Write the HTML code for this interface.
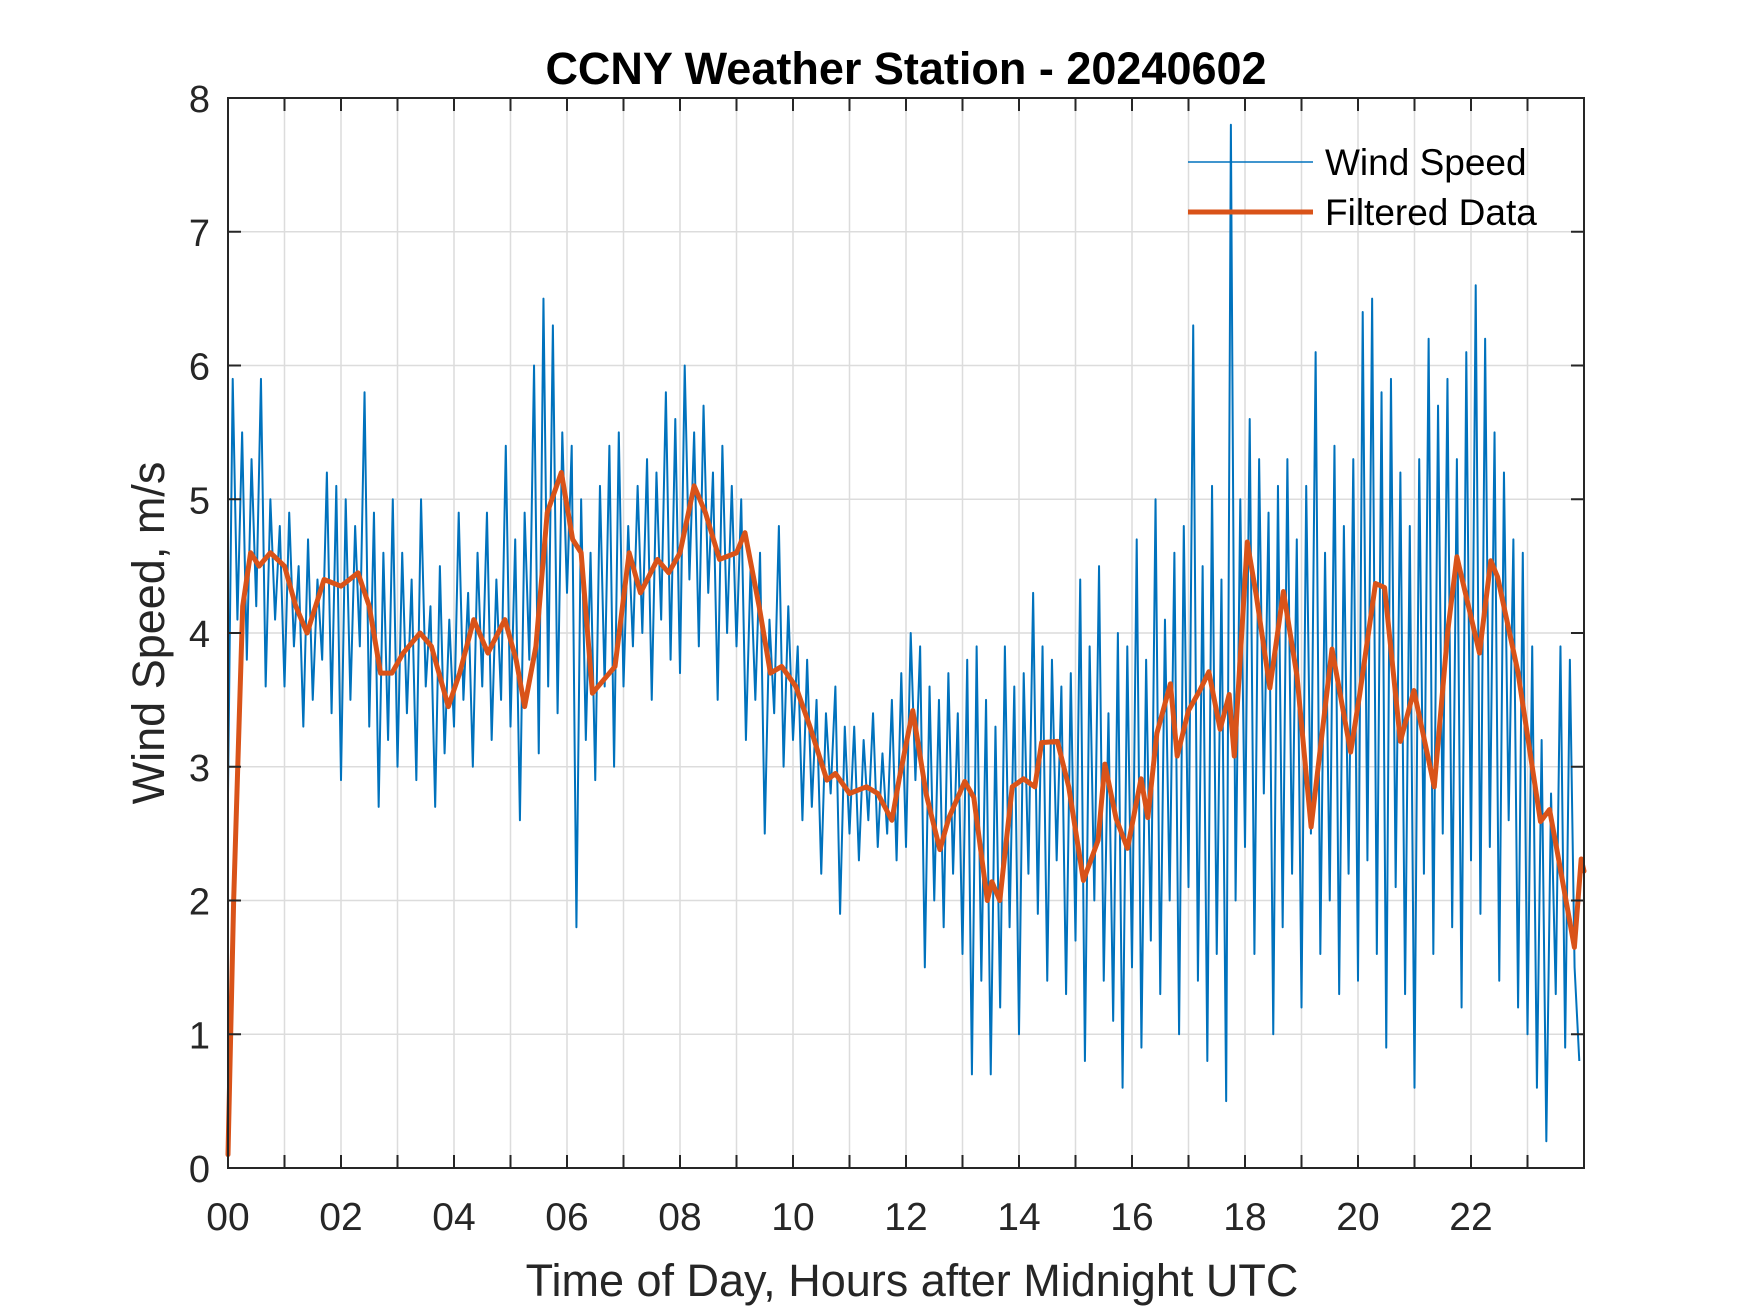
<!DOCTYPE html>
<html><head><meta charset="utf-8"><style>
html,body{margin:0;padding:0;background:#fff;}
svg{display:block;font-family:"Liberation Sans",Arial,sans-serif;}
</style></head><body>
<svg id="chart" width="1750" height="1313" viewBox="0 0 1750 1313" xmlns="http://www.w3.org/2000/svg">
<rect width="1750" height="1313" fill="#fff"/>
<g id="grid"></g>
<g id="series"></g>
<g id="axes"></g>
<text x="906" y="84" text-anchor="middle" font-size="45" font-weight="bold" fill="#000">CCNY Weather Station - 20240602</text>
<text x="912" y="1296" text-anchor="middle" font-size="45" fill="#262626">Time of Day, Hours after Midnight UTC</text>
<text transform="translate(164,633) rotate(-90)" text-anchor="middle" font-size="45" fill="#262626">Wind Speed, m/s</text>
<g>
<line x1="1188" y1="162" x2="1313" y2="162" stroke="#0072BD" stroke-width="1.5"/>
<text x="1325" y="175" font-size="37" fill="#000">Wind Speed</text>
<line x1="1188" y1="212" x2="1313" y2="212" stroke="#D95319" stroke-width="5"/>
<text x="1325" y="225" font-size="37" fill="#000">Filtered Data</text>
</g>
</svg>
<script>
const windSpeed = [
2.8,5.9,4.1,5.5,3.8,5.3,4.2,5.9,3.6,5.0,4.1,4.8,
3.6,4.9,3.9,4.5,3.3,4.7,3.5,4.4,3.8,5.2,3.4,5.1,
2.9,5.0,3.5,4.8,3.9,5.8,3.3,4.9,2.7,4.6,3.2,5.0,
3.0,4.6,3.4,4.4,2.9,5.0,3.6,4.2,2.7,4.5,3.1,4.1,
3.3,4.9,3.5,4.3,3.0,4.6,3.6,4.9,3.2,4.4,3.5,5.4,
3.3,4.7,2.6,4.9,3.8,6.0,3.1,6.5,3.6,6.3,3.4,5.5,
4.3,5.4,1.8,5.0,3.2,4.6,2.9,5.1,3.6,5.4,3.0,5.5,
3.6,4.8,3.9,5.1,4.0,5.3,3.5,5.2,4.1,5.8,3.8,5.6,
3.7,6.0,4.4,5.5,3.9,5.7,4.3,5.2,3.5,5.4,4.0,5.1,
3.9,5.0,3.2,4.5,3.5,4.6,2.5,4.1,3.4,4.8,3.0,4.2,
3.2,3.9,2.6,3.8,2.7,3.5,2.2,3.4,2.8,3.6,1.9,3.3,
2.5,3.3,2.3,3.2,2.6,3.4,2.4,3.1,2.5,3.5,2.3,3.7,
2.4,4.0,2.9,3.9,1.5,3.6,2.0,3.5,1.8,3.7,2.2,3.4,
1.6,3.8,0.7,3.9,1.4,3.5,0.7,3.3,1.2,3.9,1.8,3.6,
1.0,3.7,2.2,4.3,1.9,3.9,1.4,3.8,2.3,3.6,1.3,3.7,
1.7,4.4,0.8,3.9,2.0,4.5,1.4,3.4,1.1,4.0,0.6,3.9,
1.5,4.7,0.9,3.8,1.7,5.0,1.3,4.1,2.0,4.6,1.0,4.8,
2.1,6.3,1.4,4.5,0.8,5.1,1.6,4.4,0.5,7.8,2.0,5.0,
2.4,5.6,1.6,5.3,2.8,4.9,1.0,5.1,1.8,5.3,2.2,4.7,
1.2,5.1,2.5,6.1,1.6,4.6,2.0,5.4,1.3,4.8,2.2,5.3,
1.4,6.4,2.3,6.5,1.6,5.8,0.9,5.9,2.1,5.2,1.3,4.8,
0.6,5.3,2.2,6.2,1.6,5.7,2.5,5.9,1.8,5.3,1.2,6.1,
2.3,6.6,1.9,6.2,2.4,5.5,1.4,5.2,2.6,4.7,1.2,4.6,
1.0,3.9,0.6,3.2,0.2,2.8,1.3,3.9,0.9,3.8,1.5,0.8
];
const windMinuteStep = 5;
const filteredHours = [0,0.1,0.26,0.4,0.55,0.75,1.0,1.2,1.4,1.7,2.0,2.3,2.5,2.7,2.9,3.1,3.4,3.6,3.9,4.1,4.35,4.6,4.9,5.1,5.25,5.45,5.65,5.9,6.1,6.25,6.45,6.65,6.85,7.1,7.3,7.6,7.8,8.0,8.25,8.45,8.7,9.0,9.15,9.4,9.6,9.8,10.05,10.3,10.6,10.75,11.0,11.3,11.5,11.75,11.88,12.12,12.36,12.6,12.76,13.04,13.2,13.44,13.52,13.66,13.88,14.08,14.28,14.4,14.68,14.88,15.14,15.4,15.52,15.72,15.92,16.16,16.28,16.44,16.68,16.8,17.0,17.2,17.36,17.56,17.72,17.81,18.04,18.2,18.44,18.68,18.92,19.17,19.54,19.87,20.03,20.31,20.47,20.75,20.99,21.35,21.59,21.75,22.15,22.35,22.47,22.83,23.23,23.39,23.55,23.83,23.95,24.0];
const filteredValues = [0.1,2.0,4.2,4.6,4.5,4.6,4.5,4.2,4.0,4.4,4.35,4.45,4.2,3.7,3.7,3.85,4.0,3.9,3.45,3.7,4.1,3.85,4.1,3.8,3.45,3.9,4.9,5.2,4.7,4.6,3.55,3.65,3.75,4.6,4.3,4.55,4.45,4.6,5.1,4.9,4.55,4.6,4.75,4.2,3.7,3.75,3.6,3.3,2.9,2.95,2.8,2.85,2.8,2.6,2.91,3.42,2.79,2.38,2.62,2.89,2.77,2.0,2.14,2.0,2.85,2.91,2.85,3.18,3.19,2.85,2.15,2.45,3.02,2.61,2.39,2.91,2.62,3.25,3.62,3.08,3.42,3.57,3.71,3.28,3.54,3.08,4.68,4.28,3.59,4.31,3.68,2.55,3.88,3.11,3.54,4.37,4.34,3.19,3.57,2.85,4.02,4.57,3.85,4.54,4.42,3.71,2.59,2.68,2.31,1.65,2.31,2.22];
const xTickHours = [0,2,4,6,8,10,12,14,16,18,20,22];
const xTickLabels = ["00","02","04","06","08","10","12","14","16","18","20","22"];
const yTickValues = [0,1,2,3,4,5,6,7,8];

const L=228,T=98,R=1584,B=1168,NS="http://www.w3.org/2000/svg";
const xs=h=>L+(h/24)*(R-L);
const ys=v=>B-(v/8)*(B-T);
function mk(tag,attrs,parent){const e=document.createElementNS(NS,tag);for(const k in attrs)e.setAttribute(k,attrs[k]);parent.appendChild(e);return e;}
const grid=document.getElementById('grid'),series=document.getElementById('series'),axes=document.getElementById('axes');
for(let h=1;h<24;h++){const l=mk('line',{x1:xs(h),x2:xs(h),y1:T,y2:B,stroke:'#dcdcdc','stroke-width':1.5},grid);

}
yTickValues.forEach(v=>{if(v===0||v===8)return;const l=mk('line',{x1:L,x2:R,y1:ys(v),y2:ys(v),stroke:'#dcdcdc','stroke-width':1.5},grid);

});
let d='';windSpeed.forEach((v,i)=>{d+=(i?'L':'M')+xs(i*windMinuteStep/60).toFixed(2)+','+ys(v).toFixed(2);});
const wp=mk('path',{d:d,fill:'none',stroke:'#0072BD','stroke-width':2,'stroke-linejoin':'round'},series);


let d2='';filteredValues.forEach((v,i)=>{d2+=(i?'L':'M')+xs(filteredHours[i]).toFixed(2)+','+ys(v).toFixed(2);});
const fp=mk('path',{d:d2,fill:'none',stroke:'#D95319','stroke-width':5,'stroke-linejoin':'round','stroke-linecap':'round'},series);


const frame=mk('rect',{x:L,y:T,width:R-L,height:B-T,fill:'none',stroke:'#262626','stroke-width':2},axes);


for(let h=1;h<24;h++){const t1=mk('line',{x1:xs(h),x2:xs(h),y1:B,y2:B-13,stroke:'#262626','stroke-width':2},axes);


const t2=mk('line',{x1:xs(h),x2:xs(h),y1:T,y2:T+13,stroke:'#262626','stroke-width':2},axes);

}
yTickValues.forEach(v=>{const t1=mk('line',{x1:L,x2:L+13,y1:ys(v),y2:ys(v),stroke:'#262626','stroke-width':2},axes);


const t2=mk('line',{x1:R,x2:R-13,y1:ys(v),y2:ys(v),stroke:'#262626','stroke-width':2},axes);


const tx=mk('text',{x:210,y:ys(v)+14,'text-anchor':'end','font-size':38,fill:'#262626'},axes);
tx.textContent=String(v);

});
xTickHours.forEach((h,i)=>{const tx=mk('text',{x:xs(h),y:1230,'text-anchor':'middle','font-size':39,fill:'#262626'},axes);
tx.textContent=xTickLabels[i];

});
</script>
</body></html>
